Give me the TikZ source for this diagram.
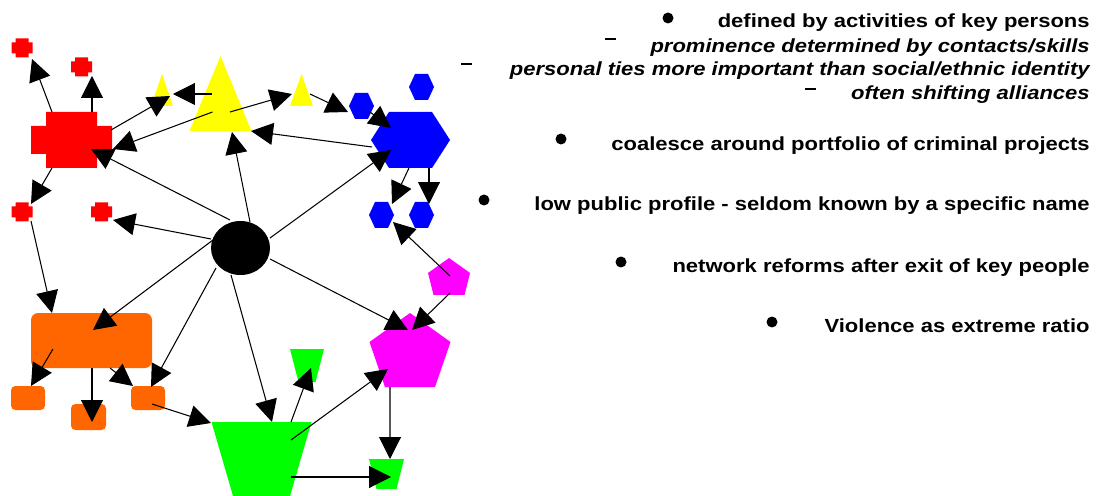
\documentclass[tikz,border=0pt]{standalone}
\usepackage{fontspec}
\setmainfont{Liberation Sans}
\usetikzlibrary{arrows.meta,calc}
\definecolor{cred}{HTML}{FF0000}
\definecolor{cyellow}{HTML}{FFFF00}
\definecolor{cblue}{HTML}{0000FF}
\definecolor{cpink}{HTML}{FF00FF}
\definecolor{corange}{HTML}{FF6600}
\definecolor{cgreen}{HTML}{00FF00}
\newcommand\stretchtxt[1]{\scalebox{1.16}[1]{#1}}
\begin{document}
\begin{tikzpicture}[x=0.02cm,y=-0.02cm,
  edge/.style={draw=black, line width=0.6pt, -{Triangle[length=4.4mm,width=4.4mm]}},
  txt/.style={anchor=base east, inner sep=0pt, font=\fontsize{10.8}{13}\selectfont\bfseries},
  itxt/.style={txt, font=\fontsize{10.8}{13}\selectfont\bfseries\itshape},
  bul/.style={circle, fill=black, inner sep=0pt, minimum size=0.22cm},
  dsh/.style={rectangle, fill=black, inner sep=0pt, minimum width=0.22cm, minimum height=0.045cm},
  pics/plusshape/.style n args={5}{code={\fill[#5] (-#3,-#2) -- (#3,-#2) -- (#3,-#4) -- (#1,-#4) -- (#1,#4) -- (#3,#4) -- (#3,#2) -- (-#3,#2) -- (-#3,#4) -- (-#1,#4) -- (-#1,-#4) -- (-#3,-#4) -- cycle;}},
  pics/hexshape/.style n args={3}{code={\fill[cblue] (-#1,0) -- (-#2,-#3) -- (#2,-#3) -- (#1,0) -- (#2,#3) -- (-#2,#3) -- cycle;}},
  pics/trishape/.style n args={3}{code={\fill[cyellow] (0,-#1) -- (#3,#2) -- (-#3,#2) -- cycle;}},
  pics/pentshape/.style n args={5}{code={\fill[cpink] (0,-#1) -- (#3,-#2) -- (#5,#4) -- (-#5,#4) -- (-#3,-#2) -- cycle;}},
  pics/trapshape/.style n args={4}{code={\fill[cgreen] (-#2,-#1) -- (#2,-#1) -- (#4,#3) -- (-#4,#3) -- cycle;}}
]
\useasboundingbox (0,0) rectangle (1101,496);

% ---- node centres ----
\coordinate (r1) at (22,48);
\coordinate (r2) at (81.5,67);
\coordinate (rB) at (71.5,140);
\coordinate (r3) at (22,212);
\coordinate (r4) at (101.5,212);
\coordinate (y1) at (162,95);
\coordinate (yB) at (220.5,106);
\coordinate (y2) at (301.5,95);
\coordinate (bT) at (421.5,87);
\coordinate (b2) at (361.5,106);
\coordinate (bB) at (410.5,140);
\coordinate (b3) at (381.5,215);
\coordinate (b4) at (421.5,215);
\coordinate (k) at (240.5,248);
\coordinate (pS) at (449,277);
\coordinate (pB) at (410,350);
\coordinate (oB) at (91.5,340.5);
\coordinate (o1) at (28,398);
\coordinate (o2) at (88.5,417);
\coordinate (o3) at (148,398);
\coordinate (gB) at (261.5,459);
\coordinate (g1) at (307,365.5);
\coordinate (g2) at (386.5,474);

% ---- shapes ----
\pic at (r1) {plusshape={10.5}{9.5}{6.5}{5.5}{cred}};
\pic at (r2) {plusshape={10.5}{9.5}{6.5}{5.5}{cred}};
\pic at (r3) {plusshape={10.5}{9.5}{6.5}{5.5}{cred}};
\pic at (r4) {plusshape={10.5}{9.5}{6.5}{5.5}{cred}};
\pic at (rB) {plusshape={40.5}{28}{25.5}{14}{cred}};

\pic at (y1) {trishape={21}{11}{11}};
\pic at (y2) {trishape={21}{11}{11.5}};
\pic at (yB) {trishape={50}{25}{31}};

\pic at (bT) {hexshape={12.5}{6.5}{13}};
\pic at (b2) {hexshape={12.5}{6.5}{13}};
\pic at (b3) {hexshape={12.5}{6.5}{13}};
\pic at (b4) {hexshape={12.5}{6.5}{13}};
\pic at (bB) {hexshape={39.5}{21.5}{28}};

\fill[black] (k) ellipse [x radius=29.5, y radius=27];

\pic at (pS) {pentshape={19}{4}{21}{18}{15.5}};
\pic at (pB) {pentshape={37}{8}{40.5}{37}{25}};

\fill[corange, rounded corners=4pt] ($(oB)+(-60.5,-27.5)$) rectangle ($(oB)+(60.5,27.5)$);
\fill[corange, rounded corners=2.5pt] ($(o1)+(-17,-12)$) rectangle ($(o1)+(17,12)$);
\fill[corange, rounded corners=2.5pt] ($(o2)+(-17.5,-13)$) rectangle ($(o2)+(17.5,13)$);
\fill[corange, rounded corners=2.5pt] ($(o3)+(-17,-12)$) rectangle ($(o3)+(17,12)$);

\pic at (gB) {trapshape={37}{50}{37}{28.5}};
\pic at (g1) {trapshape={16.5}{17}{16.5}{8.5}};
\pic at (g2) {trapshape={15}{17.5}{15}{10}};

% ---- connectors ----
\draw[edge] ($(rB)+(-19.5,-28)$) -- ($(r1)+(10,11)$);
\draw[edge] ($(rB)+(20.5,-28)$) -- ($(r2)+(10.5,9)$);
\draw[edge] ($(yB)+(-8,6)$) -- ($(rB)+(41.5,9)$);
\draw[edge] ($(rB)+(39.5,-10)$) -- ($(y1)+(8,1)$);
\draw[edge] ($(yB)+(-8.5,-12)$) -- ($(y1)+(11,-1)$);
\draw[edge] ($(yB)+(9.5,6)$) -- ($(y2)+(-9.5,-1)$);
\draw[edge] ($(y2)+(8.5,-1)$) -- ($(b2)+(-13.5,6)$);
\draw[edge] ($(b2)+(8.5,6)$) -- ($(bB)+(-19.5,-12)$);
\draw[edge] ($(bB)+(-38.5,7)$) -- ($(yB)+(30.5,25)$);
\draw[edge] ($(k)+(9.5,-26)$) -- ($(yB)+(11.5,26)$);
\draw[edge] ($(k)+(-10.5,-28)$) -- ($(rB)+(19.5,9)$);
\draw[edge] ($(k)+(29.5,-10)$) -- ($(bB)+(-19.5,10)$);
\draw[edge] ($(k)+(-29.5,-9)$) -- ($(r4)+(11.5,8)$);
\draw[edge] ($(rB)+(-19.5,28)$) -- ($(r3)+(9,-8)$);
\draw[edge] ($(bB)+(-1.5,28)$) -- ($(b3)+(10.5,-11)$);
\draw[edge] ($(bB)+(18.5,28)$) -- ($(b4)+(7.5,-11)$);
\draw[edge] ($(pS)+(1,-1)$) -- ($(b3)+(11.5,7)$);
\draw[edge] ($(r3)+(9,9)$) -- ($(oB)+(-39.5,-27.5)$);
\draw[edge] ($(k)+(-27.5,-8)$) -- ($(oB)+(1.5,-10.5)$);
\draw[edge] ($(oB)+(-38.5,8.5)$) -- ($(o1)+(3,-12)$);
\draw[edge] ($(oB)+(0.5,27.5)$) -- ($(o2)+(3.5,5)$);
\draw[edge] ($(oB)+(18.5,27.5)$) -- ($(o3)+(-15,-12)$);
\draw[edge] ($(k)+(-24.5,20)$) -- ($(o3)+(3,-11)$);
\draw[edge] ($(o3)+(4,6)$) -- ($(gB)+(-50.5,-36)$);
\draw[edge] ($(k)+(-9.5,27)$) -- ($(gB)+(10.5,-37)$);
\draw[edge] ($(gB)+(29.5,-37)$) -- ($(g1)+(4,2.5)$);
\draw[edge] ($(gB)+(29.5,-19)$) -- ($(pB)+(-22,19)$);
\draw[edge] ($(k)+(29.5,11)$) -- ($(pB)+(-2,-20)$);
\draw[edge] ($(pS)+(1,16)$) -- ($(pB)+(2,-20)$);
\draw[edge] ($(pB)+(-20,37)$) -- ($(g2)+(3.5,-15)$);
\draw[edge] ($(gB)+(29.5,18)$) -- ($(g2)+(4.5,3)$);

% ---- text ----
\node[bul] (u1) at (668,18) {};
\node[txt] (t1) at (1090,28) {\stretchtxt{defined by activities of key persons}};
\node[dsh] (d1) at (610,39) {};
\node[itxt] (t2) at (1090,53) {\stretchtxt{prominence determined by contacts/skills}};
\node[dsh] (d2) at (466,64) {};
\node[itxt] (t3) at (1090,76) {\stretchtxt{personal ties more important than social/ethnic identity}};
\node[dsh] (d3) at (810,89) {};
\node[itxt] (t4) at (1090,100) {\stretchtxt{often shifting alliances}};
\node[bul] (u2) at (561,139) {};
\node[txt] (t5) at (1090,151) {\stretchtxt{coalesce around portfolio of criminal projects}};
\node[bul] (u3) at (484,200) {};
\node[txt] (t6) at (1090,211) {\stretchtxt{low public profile - seldom known by a specific name}};
\node[bul] (u4) at (621,262) {};
\node[txt] (t7) at (1090,273) {\stretchtxt{network reforms after exit of key people}};
\node[bul] (u5) at (772,322) {};
\node[txt] (t8) at (1090,333) {\stretchtxt{Violence as extreme ratio}};
\end{tikzpicture}
\end{document}
